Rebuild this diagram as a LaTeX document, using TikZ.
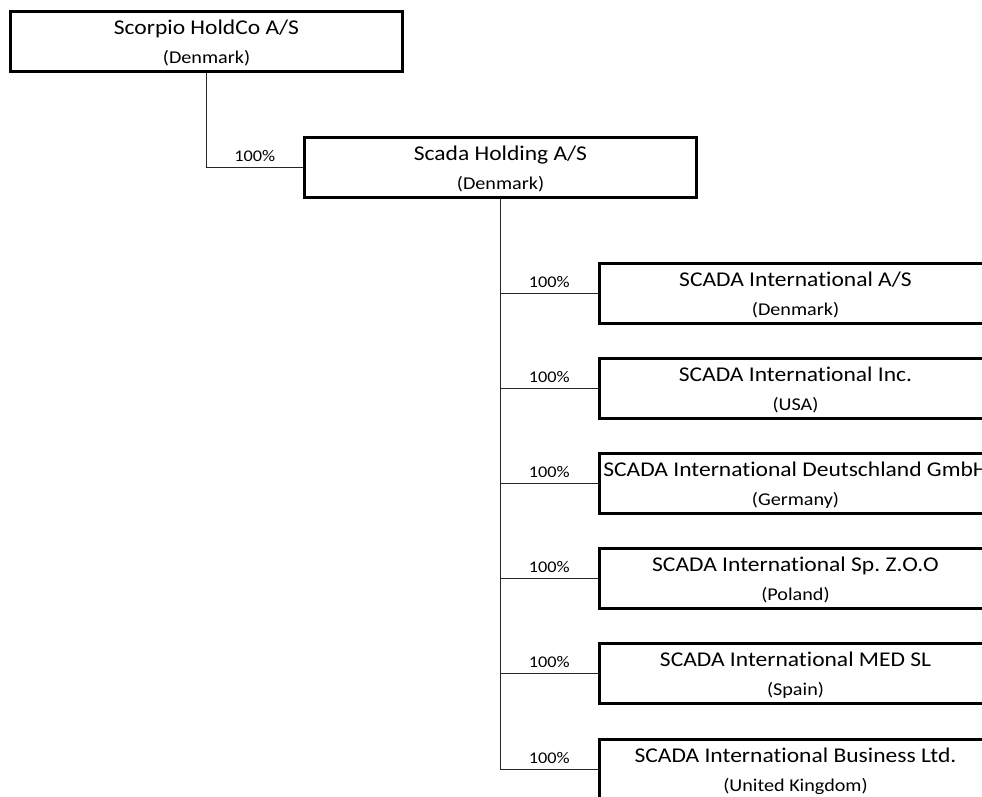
\documentclass[tikz,border=0pt]{standalone}
\usepackage{fontspec}
\setmainfont{Carlito}[FakeStretch=1.12,Ligatures=NoCommon]
\usetikzlibrary{positioning}
\frenchspacing

\begin{document}
\begin{tikzpicture}[
  x=1pt,y=-1pt,
  mybox/.style={
    draw,
    line width=2.6pt,
    rectangle,
    minimum width=392pt,
    minimum height=60pt,
    align=center,
    text depth=0pt,
    font=\fontsize{21}{29}\selectfont
    },
  myline/.style={
    draw=black!85,
    line width=1.1pt
    },
  mypct/.style={
    anchor=south,
    inner sep=5.5pt,
    font=\fontsize{16.3}{18}\selectfont
    }
]
\clip (0,0) rectangle (982,796);
\fill[white] (0,0) rectangle (982,796);
% parents
\node[mybox] (scorpio) at (206.5,41.5)
  {Scorpio HoldCo A/S\\{\fontsize{18}{29}\selectfont (Denmark)}};
\node[mybox] (holding) at (500.5,167.5)
  {Scada Holding A/S\\{\fontsize{18}{29}\selectfont (Denmark)}};
% subsidiaries
\node[mybox] (intl) at (795.5,293.5)
  {SCADA International A/S\\{\fontsize{18}{29}\selectfont (Denmark)}};
\node[mybox] (inc) at (795.5,388.5)
  {SCADA International Inc.\\{\fontsize{18}{29}\selectfont (USA)}};
\node[mybox] (gmbh) at (795.5,483.5)
  {SCADA International Deutschland GmbH\\{\fontsize{18}{29}\selectfont (Germany)}};
\node[mybox] (spzoo) at (795.5,578.5)
  {SCADA International Sp. Z.O.O\\{\fontsize{18}{29}\selectfont (Poland)}};
\node[mybox] (med) at (795.5,673.5)
  {SCADA International MED SL\\{\fontsize{18}{29}\selectfont (Spain)}};
\node[mybox] (ltd) at (795.5,769.5)
  {SCADA International Business Ltd.\\{\fontsize{18}{29}\selectfont (United Kingdom)}};
% ownership lines
\draw[myline] (scorpio.south) |- (holding.west) node[mypct,pos=0.75] {100\%};
\draw[myline] (holding.south) |- (intl.west) node[mypct,pos=0.75] {100\%};
\draw[myline] (holding.south) |- (inc.west) node[mypct,pos=0.75] {100\%};
\draw[myline] (holding.south) |- (gmbh.west) node[mypct,pos=0.75] {100\%};
\draw[myline] (holding.south) |- (spzoo.west) node[mypct,pos=0.75] {100\%};
\draw[myline] (holding.south) |- (med.west) node[mypct,pos=0.75] {100\%};
\draw[myline] (holding.south) |- (ltd.west) node[mypct,pos=0.75] {100\%};
\end{tikzpicture}
\end{document}
